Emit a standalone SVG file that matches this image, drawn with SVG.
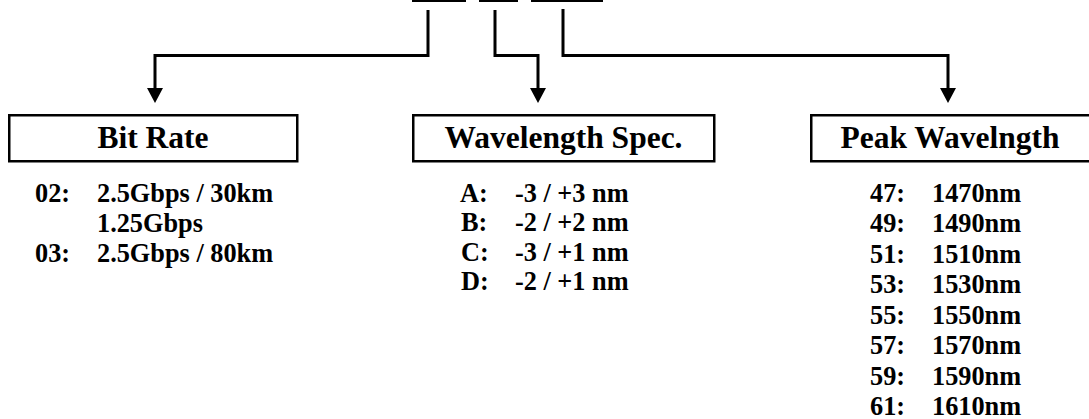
<svg xmlns="http://www.w3.org/2000/svg" width="1089" height="419" viewBox="0 0 1089 419">
<style>
.box{fill:#fff;stroke:#000;stroke-width:2.5}
.hdr{font-family:"Liberation Serif","Times New Roman",serif;font-weight:bold;font-size:31.5px;text-anchor:middle;fill:#000}
.lst{font-family:"Liberation Serif","Times New Roman",serif;font-weight:bold;font-size:26.3px;fill:#000}
.conn{fill:none;stroke:#000;stroke-width:3;stroke-linejoin:miter}
</style>
<defs>
<marker id="arr" markerUnits="userSpaceOnUse" markerWidth="16" markerHeight="16" refX="0" refY="8" orient="auto" viewBox="0 0 16 16">
<path d="M0,0 L15,8 L0,16 z" fill="#000"/>
</marker>
</defs>
<rect width="1089" height="419" fill="#fff"/>
<g id="top-bars">
<rect x="412" y="0" width="54" height="2" fill="#000"/>
<rect x="479" y="0" width="39" height="2" fill="#000"/>
<rect x="531" y="0" width="72" height="2" fill="#000"/>
</g>
<g id="connectors">
<path class="conn" d="M428,10 V55.5 H155 V88" marker-end="url(#arr)"/>
<path class="conn" d="M495,10 V55.5 H538 V88" marker-end="url(#arr)"/>
<path class="conn" d="M563,9 V55.5 H948 V88" marker-end="url(#arr)"/>
</g>
<g id="bit-rate">
<rect class="box" x="9.25" y="115.25" width="288" height="46"/>
<text class="hdr" x="153" y="148">Bit Rate</text>
<text class="lst" x="35" y="201.5">02:</text>
<text class="lst" x="97" y="201.5">2.5Gbps / 30km</text>
<text class="lst" x="97" y="231.5">1.25Gbps</text>
<text class="lst" x="35" y="261.5">03:</text>
<text class="lst" x="97" y="261.5">2.5Gbps / 80km</text>
</g>
<g id="wavelength-spec">
<rect class="box" x="413.25" y="115.25" width="301" height="46"/>
<text class="hdr" x="563.5" y="148">Wavelength Spec.</text>
<text class="lst" x="460" y="201.5">A:</text>
<text class="lst" x="515" y="201.5">-3 / +3 nm</text>
<text class="lst" x="461" y="231">B:</text>
<text class="lst" x="515" y="231">-2 / +2 nm</text>
<text class="lst" x="461" y="260.5">C:</text>
<text class="lst" x="515" y="260.5">-3 / +1 nm</text>
<text class="lst" x="461" y="290">D:</text>
<text class="lst" x="515" y="290">-2 / +1 nm</text>
</g>
<g id="peak-wavelength">
<rect class="box" x="811.25" y="115.25" width="284" height="46"/>
<text class="hdr" x="950" y="148">Peak Wavelngth</text>
<text class="lst" x="870" y="201.5">47:</text><text class="lst" x="932" y="201.5">1470nm</text>
<text class="lst" x="870" y="232">49:</text><text class="lst" x="932" y="232">1490nm</text>
<text class="lst" x="870" y="262.5">51:</text><text class="lst" x="932" y="262.5">1510nm</text>
<text class="lst" x="870" y="293">53:</text><text class="lst" x="932" y="293">1530nm</text>
<text class="lst" x="870" y="323.5">55:</text><text class="lst" x="932" y="323.5">1550nm</text>
<text class="lst" x="870" y="354">57:</text><text class="lst" x="932" y="354">1570nm</text>
<text class="lst" x="870" y="384.5">59:</text><text class="lst" x="932" y="384.5">1590nm</text>
<text class="lst" x="870" y="415">61:</text><text class="lst" x="932" y="415">1610nm</text>
</g>
</svg>
